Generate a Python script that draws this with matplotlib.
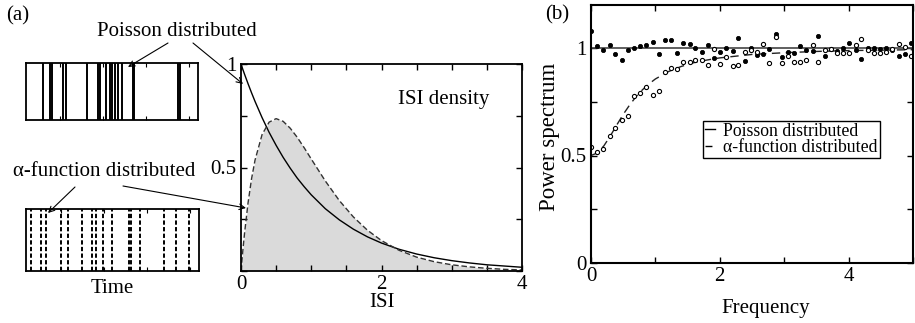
import numpy as np
import matplotlib
matplotlib.use('Agg')
import matplotlib.pyplot as plt
from matplotlib.ticker import MultipleLocator, FixedLocator, FuncFormatter
from matplotlib.patches import FancyArrowPatch
from matplotlib.lines import Line2D

plt.rcParams['font.family'] = ['Liberation Serif', 'DejaVu Serif']
plt.rcParams['font.size'] = 15

# ---------------- data ----------------
# spike trains (time units of the small boxes)
poisson_spikes = [0.60, 0.765, 0.805, 1.07, 1.125, 1.61, 1.885, 1.92, 2.06, 2.15,
                  2.21, 2.27, 2.33, 2.43, 2.68, 2.72, 3.74, 3.79]
alpha_spikes = [0.31, 0.555, 0.663, 1.003, 1.18, 1.497, 1.72, 1.814, 1.976, 2.19,
                2.578, 2.617, 2.826, 3.382, 3.66, 3.968]

# ISI densities
isi_t = [0, 0.025, 0.05, 0.1, 0.15, 0.2, 0.3, 0.4, 0.5, 0.6, 0.7, 0.8, 0.9, 1.0,
         1.2, 1.4, 1.6, 1.8, 2.0, 2.25, 2.5, 2.75, 3.0, 3.25, 3.5, 3.75, 4.0]
isi_poisson = [1.0, 0.975, 0.951, 0.905, 0.861, 0.819, 0.741, 0.670, 0.607, 0.549,
               0.497, 0.449, 0.407, 0.368, 0.301, 0.247, 0.202, 0.165, 0.135, 0.105,
               0.082, 0.064, 0.050, 0.039, 0.030, 0.024, 0.018]
isi_alpha = [0.0, 0.095, 0.181, 0.328, 0.445, 0.536, 0.659, 0.719, 0.736, 0.723,
             0.690, 0.646, 0.595, 0.541, 0.435, 0.340, 0.261, 0.197, 0.147, 0.100,
             0.067, 0.045, 0.030, 0.020, 0.013, 0.008, 0.005]

# power spectra
freq = [0.00, 0.10, 0.19, 0.29, 0.38, 0.48, 0.57, 0.67, 0.76, 0.86,
        0.96, 1.05, 1.15, 1.24, 1.34, 1.43, 1.53, 1.62, 1.72, 1.82,
        1.91, 2.01, 2.10, 2.20, 2.29, 2.39, 2.48, 2.58, 2.67, 2.77,
        2.87, 2.96, 3.06, 3.15, 3.25, 3.34, 3.44, 3.53, 3.63, 3.73,
        3.82, 3.92, 4.01, 4.11, 4.20, 4.30, 4.39, 4.49, 4.58, 4.68,
        4.78, 4.87, 4.97]
power_poisson = [1.080, 1.010, 0.990, 1.015, 0.972, 0.943, 0.993, 1.002, 1.008, 1.013,
                 1.030, 0.972, 1.037, 1.037, 0.975, 1.025, 1.020, 1.000, 0.980, 1.015,
                 0.955, 0.980, 0.998, 0.986, 1.045, 0.938, 0.999, 0.966, 0.970, 0.997,
                 1.064, 0.957, 0.983, 0.978, 1.008, 0.990, 0.986, 1.058, 0.965, 0.995,
                 0.986, 0.998, 1.024, 0.993, 0.947, 1.000, 1.000, 0.997, 1.002, 0.993,
                 0.964, 0.970, 1.023]
power_alpha = [0.540, 0.515, 0.530, 0.592, 0.626, 0.665, 0.686, 0.775, 0.790, 0.820,
               0.780, 0.800, 0.888, 0.909, 0.902, 0.935, 0.933, 0.944, 0.945, 0.923,
               0.994, 0.925, 0.960, 0.914, 0.922, 0.982, 0.990, 0.980, 1.018, 0.928,
               1.049, 0.929, 0.963, 0.935, 0.935, 0.944, 1.012, 0.935, 0.991, 0.997,
               0.975, 0.975, 0.978, 1.012, 1.040, 0.991, 0.978, 0.975, 0.981, 0.994,
               1.019, 1.006, 0.963]
theory_f = [0, 0.1, 0.2, 0.3, 0.4, 0.5, 0.6, 0.7, 0.8, 0.9, 1.0, 1.2, 1.4, 1.6, 1.8,
            2.0, 2.5, 3.0, 3.5, 4.0, 4.5, 5.0]
theory_alpha = [0.500, 0.512, 0.545, 0.591, 0.642, 0.691, 0.735, 0.774, 0.806, 0.833,
                0.856, 0.890, 0.914, 0.932, 0.944, 0.954, 0.970, 0.978, 0.984, 0.988,
                0.990, 0.992]
theory_poisson = [1.0, 1.0]
theory_poisson_f = [0, 5]

# ---------------- layout helpers ----------------
W, H = 915, 323
fig = plt.figure(figsize=(W / 100, H / 100), dpi=100)


def fx(x):
    return x / W


def fy(y):
    return 1 - y / H


def rect(l, t, r, b):
    return [fx(l), fy(b), (r - l) / W, (b - t) / H]


def style_axes(ax, lw=1.3):
    for s in ax.spines.values():
        s.set_linewidth(lw)
    ax.tick_params(which='both', direction='in', top=True, right=True,
                   length=4, width=1, pad=3)


def sparse_labels(labels):
    return FuncFormatter(lambda v, p: labels.get(round(v, 3), ''))


# ---------------- spike trains ----------------
for (l, t, r, b), spikes, ls in [((26, 63, 198, 120), poisson_spikes, '-'),
                                 ((26, 209, 199, 271), alpha_spikes, (0, (2.2, 1.2)))]:
    axs = fig.add_axes(rect(l, t, r, b))
    axs.vlines(spikes, 0, 1, colors='k', linestyles=ls, lw=1.4)
    axs.set_xlim(0.2, 4.2)
    axs.set_ylim(0, 1)
    axs.set_yticks([])
    axs.xaxis.set_major_locator(FixedLocator([1, 2, 3, 4]))
    axs.set_xticklabels([])
    for s in axs.spines.values():
        s.set_linewidth(1.3)
    axs.tick_params(axis='x', direction='in', top=True, length=3, width=0.8)
    if spikes is alpha_spikes:
        axs.set_xlabel('Time', labelpad=2)

# ---------------- ISI density panel ----------------
ax1 = fig.add_axes(rect(241, 64, 522, 271))
ax1.fill_between(isi_t, isi_alpha, color='#dadada', lw=0)
ax1.plot(isi_t, isi_poisson, color='k', lw=1.0)
ax1.plot(isi_t, isi_alpha, color='#333333', lw=1.0, ls=(0, (4, 2)))
ax1.set_xlim(0, 4)
ax1.set_ylim(0, 1)
ax1.xaxis.set_major_locator(MultipleLocator(0.5))
ax1.yaxis.set_major_locator(MultipleLocator(0.25))
ax1.xaxis.set_major_formatter(sparse_labels({0.0: '0', 2.0: '2', 4.0: '4'}))
ax1.yaxis.set_major_formatter(sparse_labels({0.5: '0.5', 1.0: '1'}))
style_axes(ax1)
ax1.set_xlabel('ISI', labelpad=-1)
ax1.text(0.72, 0.83, 'ISI density', transform=ax1.transAxes, ha='center', va='center')

# ---------------- power spectrum panel ----------------
ax2 = fig.add_axes(rect(591, 5, 913, 263))
ax2.plot(theory_poisson_f, theory_poisson, color='#444444', lw=1.2)
ax2.plot(theory_f, theory_alpha, color='#222222', lw=1.0, ls=(0, (6, 4)))
ax2.plot(freq, power_poisson, 'o', ms=3.0, mfc='k', mec='k', mew=0.6)
ax2.plot(freq, power_alpha, 'o', ms=3.0, mfc='white', mec='k', mew=0.8)
ax2.set_xlim(0, 5)
ax2.set_ylim(0, 1.2)
ax2.xaxis.set_major_locator(MultipleLocator(1))
ax2.yaxis.set_major_locator(MultipleLocator(0.25))
ax2.xaxis.set_major_formatter(sparse_labels({0.0: '0', 2.0: '2', 4.0: '4'}))
ax2.yaxis.set_major_formatter(sparse_labels({0.0: '0', 0.5: '0.5', 1.0: '1'}))
style_axes(ax2, lw=1.5)
ax2.set_xlabel('Frequency')
ax2.xaxis.set_label_coords(0.543, -0.14)
ax2.set_ylabel('Power spectrum', fontsize=16.5)
ax2.yaxis.set_label_coords(-0.095, 0.49)

handles = [Line2D([], [], color='k', lw=1.0),
           Line2D([], [], color='k', lw=1.0, ls=(0, (5, 3)))]
leg = ax2.legend(handles, ['Poisson distributed', '\u03b1-function distributed'],
                 loc='center left', bbox_to_anchor=(fx(703), fy(139.5)),
                 bbox_transform=fig.transFigure, fontsize=12.8, frameon=True,
                 fancybox=False, framealpha=1, edgecolor='k', handlelength=0.6,
                 handletextpad=0.45, borderpad=0.1, labelspacing=0.0,
                 borderaxespad=0)
leg.get_frame().set_linewidth(1.0)

# ---------------- texts & arrows ----------------
fig.text(fx(18), fy(16), '(a)', ha='center', va='center')
fig.text(fx(557), fy(15), '(b)', ha='center', va='center')
fig.text(fx(177), fy(31), 'Poisson distributed', ha='center', va='center')
fig.text(fx(104), fy(172), '\u03b1-function distributed', ha='center', va='center')

arrows = [((168, 43), (128, 67)), ((193, 43), (243, 84)),
          ((75, 187), (48, 213)), ((123, 186), (246, 208))]
for (x0, y0), (x1, y1) in arrows:
    fig.add_artist(FancyArrowPatch((fx(x0), fy(y0)), (fx(x1), fy(y1)),
                                   transform=fig.transFigure, arrowstyle='->',
                                   mutation_scale=10, lw=0.8, color='k',
                                   shrinkA=0, shrinkB=0))

fig.savefig('out.png', dpi=100)
